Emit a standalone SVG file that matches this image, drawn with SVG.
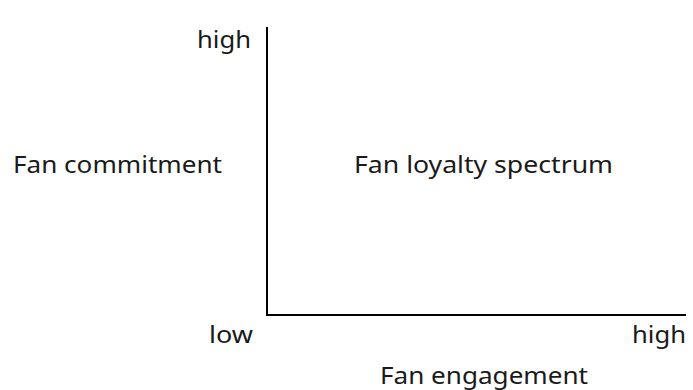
<svg xmlns="http://www.w3.org/2000/svg" width="693" height="390" viewBox="0 0 693 390">
<style>
text{font-family:"Noto Sans",sans-serif;font-size:24px;fill:#1a1a1a}
.ax{stroke:#000;stroke-width:2;fill:none}
</style>
<rect width="693" height="390" fill="#fff"/>
<g id="axes"><path class="ax" d="M267,27 V315 H686"/></g>
<g id="labels">
<text x="197" y="48" textLength="54" lengthAdjust="spacingAndGlyphs">high</text>
<text x="13" y="173" textLength="209" lengthAdjust="spacingAndGlyphs">Fan commitment</text>
<text x="354" y="173" textLength="259" lengthAdjust="spacingAndGlyphs">Fan loyalty spectrum</text>
<text x="209" y="343" textLength="44" lengthAdjust="spacingAndGlyphs">low</text>
<text x="632" y="343" textLength="54" lengthAdjust="spacingAndGlyphs">high</text>
<text x="380" y="384" textLength="208" lengthAdjust="spacingAndGlyphs">Fan engagement</text>
</g>
</svg>
